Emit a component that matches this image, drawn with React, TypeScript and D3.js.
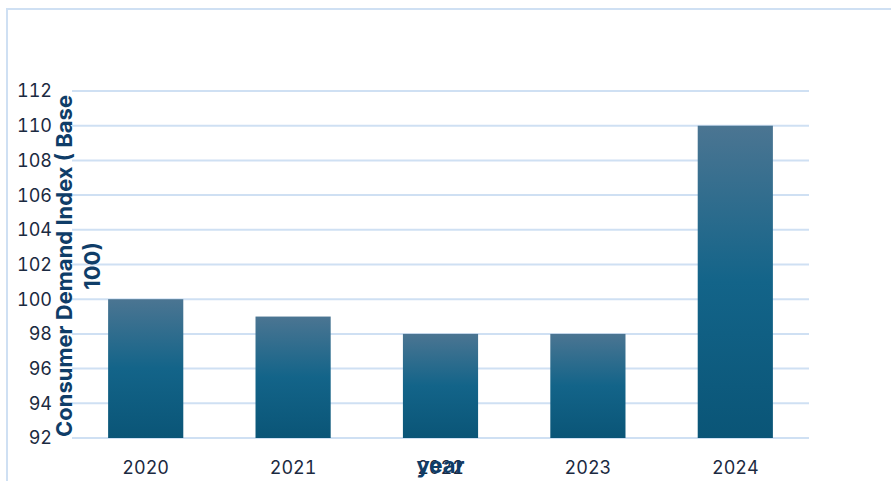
import React from "react";
import * as d3 from "d3";

const categories = ["2020", "2021", "2022", "2023", "2024"];
const values = [100, 99, 98, 98, 110];
const yTicks = [92, 94, 96, 98, 100, 102, 104, 106, 108, 110, 112];
const yTitleLines = ["Consumer Demand Index ( Base", "100)"];
const xTitle = "year";

export default function App() {
  const W = 891;
  const H = 481;
  const left = 72;
  const right = 809;
  const top = 91;
  const bottom = 438;
  const x = d3.scaleBand<string>().domain(categories).range([left, right]).paddingInner(0.49).paddingOuter(0.245);
  const y = d3.scaleLinear().domain([92, 112]).range([bottom, top]);
  const font = "Inter, 'Liberation Sans', Arial, sans-serif";
  const numStyle = { fontVariantNumeric: "tabular-nums" } as React.CSSProperties;
  return (
    <div style={{ position: "fixed", left: 0, top: 0, width: W, height: H, background: "#fff" }}>
      <svg width={W} height={H} style={{ display: "block" }}>
        <defs>
          <linearGradient id="barGrad" x1="0" y1="0" x2="0" y2="1">
            <stop offset="0%" stopColor="#4b7592" />
            <stop offset="50%" stopColor="#136489" />
            <stop offset="100%" stopColor="#0a5577" />
          </linearGradient>
        </defs>
        <rect x={7} y={9} width={W + 20} height={H + 20} fill="none" stroke="#cfe0f3" strokeWidth={2} />
        {yTicks.map((t) => (
          <g key={t}>
            <line x1={left} x2={right} y1={y(t)} y2={y(t)} stroke="#cfe0f3" strokeWidth={2} />
            <text x={52} y={y(t)} dy="0.36em" textAnchor="end" fontFamily={font} fontSize={18} fill="#1b2a41" style={numStyle}>
              {t}
            </text>
          </g>
        ))}
        {categories.map((c, i) => (
          <g key={c}>
            <rect x={x(c)} y={y(values[i])} width={x.bandwidth()} height={y(92) - y(values[i])} fill="url(#barGrad)" />
            <text x={(x(c) as number) + x.bandwidth() / 2} y={474} textAnchor="middle" fontFamily={font} fontSize={18} fill="#1b2a41" style={numStyle}>
              {c}
            </text>
          </g>
        ))}
        <text x={(x("2022") as number) + x.bandwidth() / 2} y={473} textAnchor="middle" fontFamily={font} fontSize={22} fontWeight="bold" fill="#0f3d68">
          {xTitle}
        </text>
        {yTitleLines.map((l, i) => (
          <text
            key={i}
            transform={`translate(${72 + i * 28},266) rotate(-90)`}
            textAnchor="middle"
            fontFamily={font}
            fontSize={22}
            fontWeight="bold"
            fill="#0f3d68"
          >
            {l}
          </text>
        ))}
      </svg>
    </div>
  );
}
